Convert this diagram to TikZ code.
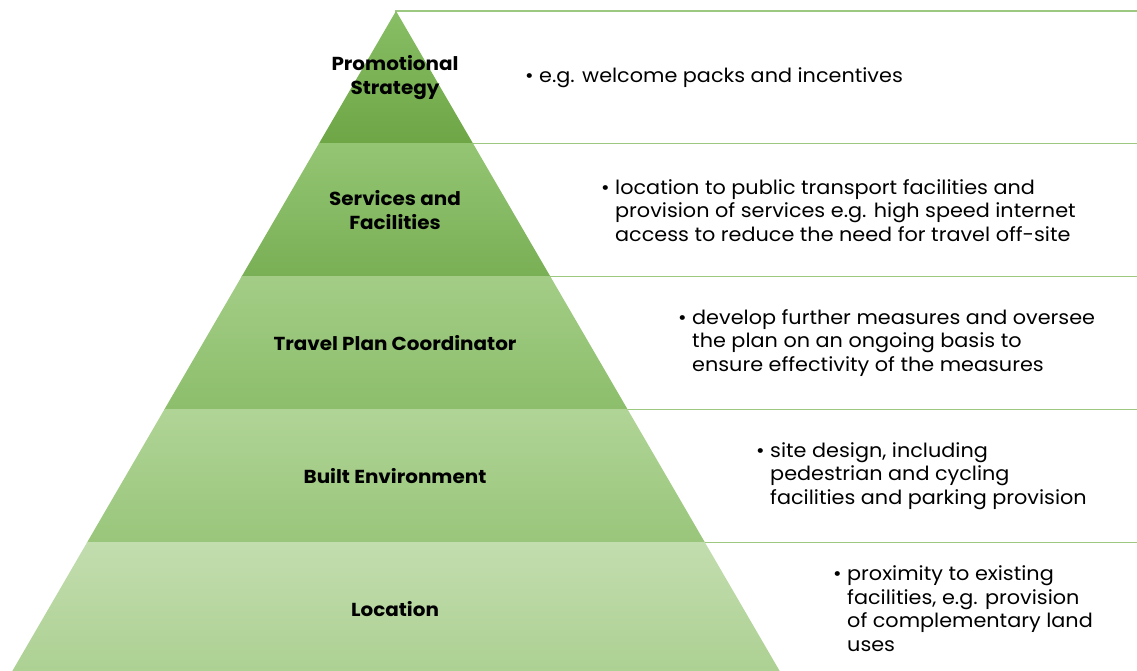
\documentclass[tikz,border=0pt]{standalone}
\usepackage{fontspec}
\setmainfont{Poppins}
\newfontfamily\descfont{Poppins}[FakeStretch=1.065]
\newfontfamily\labelfont{Poppins}[FakeStretch=1.06]
\begin{document}
\begin{tikzpicture}[x=1pt,y=-1pt,
  boxline/.style={draw=boxgreen, line width=1.2pt},
  tierlabel/.style={font=\labelfont\fontsize{18.8}{24}\selectfont\bfseries, align=center, text=black},
  desc/.style={font=\descfont\fontsize{19.5}{23.5}\selectfont, align=left, anchor=west, text=black, inner sep=0pt}]
\definecolor{boxgreen}{HTML}{9CC97F}
\useasboundingbox (0,0) rectangle (1137,671);
% apex and base of the pyramid
\coordinate (apex) at (396,11);
\coordinate (bl) at (10,675);
\coordinate (br) at (782,675);
% description boxes behind the pyramid
\foreach \t/\b in {11/143.8, 143.8/276.6, 276.6/409.4, 409.4/542.2, 542.2/675}
  \draw[boxline] (396,\t) rectangle (1160,\b);
% shaded tiers clipped to the triangle
\begin{scope}
  \clip (apex) -- (br) -- (bl) -- cycle;
  \shade[top color={rgb,255:red,136;green,190;blue,101}, bottom color={rgb,255:red,110;green,166;blue,70}] (0,11) rectangle (1137,143.8);
  \shade[top color={rgb,255:red,148;green,197;blue,115}, bottom color={rgb,255:red,121;green,175;blue,85}] (0,143.8) rectangle (1137,276.6);
  \shade[top color={rgb,255:red,163;green,205;blue,134}, bottom color={rgb,255:red,140;green,190;blue,107}] (0,276.6) rectangle (1137,409.4);
  \shade[top color={rgb,255:red,176;green,212;blue,150}, bottom color={rgb,255:red,153;green,198;blue,123}] (0,409.4) rectangle (1137,542.2);
  \shade[top color={rgb,255:red,194;green,221;blue,174}, bottom color={rgb,255:red,172;green,208;blue,146}] (0,542.2) rectangle (1137,675);
\end{scope}
% tier labels
\node[tierlabel] (l1) at (395,77.4) {Promotional\\Strategy};
\node[tierlabel] (l2) at (395,210.2) {Services and\\Facilities};
\node[tierlabel] (l3) at (395,343) {Travel Plan Coordinator};
\node[tierlabel] (l4) at (395,475.8) {Built Environment};
\node[tierlabel] (l5) at (395,608.6) {Location};
% descriptions
\node[desc] (d1) at (525,77.4) {\makebox[14pt][l]{•}e.g. welcome packs and incentives};
\node[desc] (d2) at (601,210.2) {\makebox[14pt][l]{•}location to public transport facilities and\\\hspace*{14pt}provision of services e.g. high speed internet\\\hspace*{14pt}access to reduce the need for travel off-site};
\node[desc] (d3) at (678,343) {\makebox[14pt][l]{•}develop further measures and oversee\\\hspace*{14pt}the plan on an ongoing basis to\\\hspace*{14pt}ensure effectivity of the measures};
\node[desc] (d4) at (756,475.8) {\makebox[14pt][l]{•}site design, including\\\hspace*{14pt}pedestrian and cycling\\\hspace*{14pt}facilities and parking provision};
\node[desc] (d5) at (833,608.6) {\makebox[14pt][l]{•}proximity to existing\\\hspace*{14pt}facilities, e.g. provision\\\hspace*{14pt}of complementary land\\\hspace*{14pt}uses};
\end{tikzpicture}
\end{document}
